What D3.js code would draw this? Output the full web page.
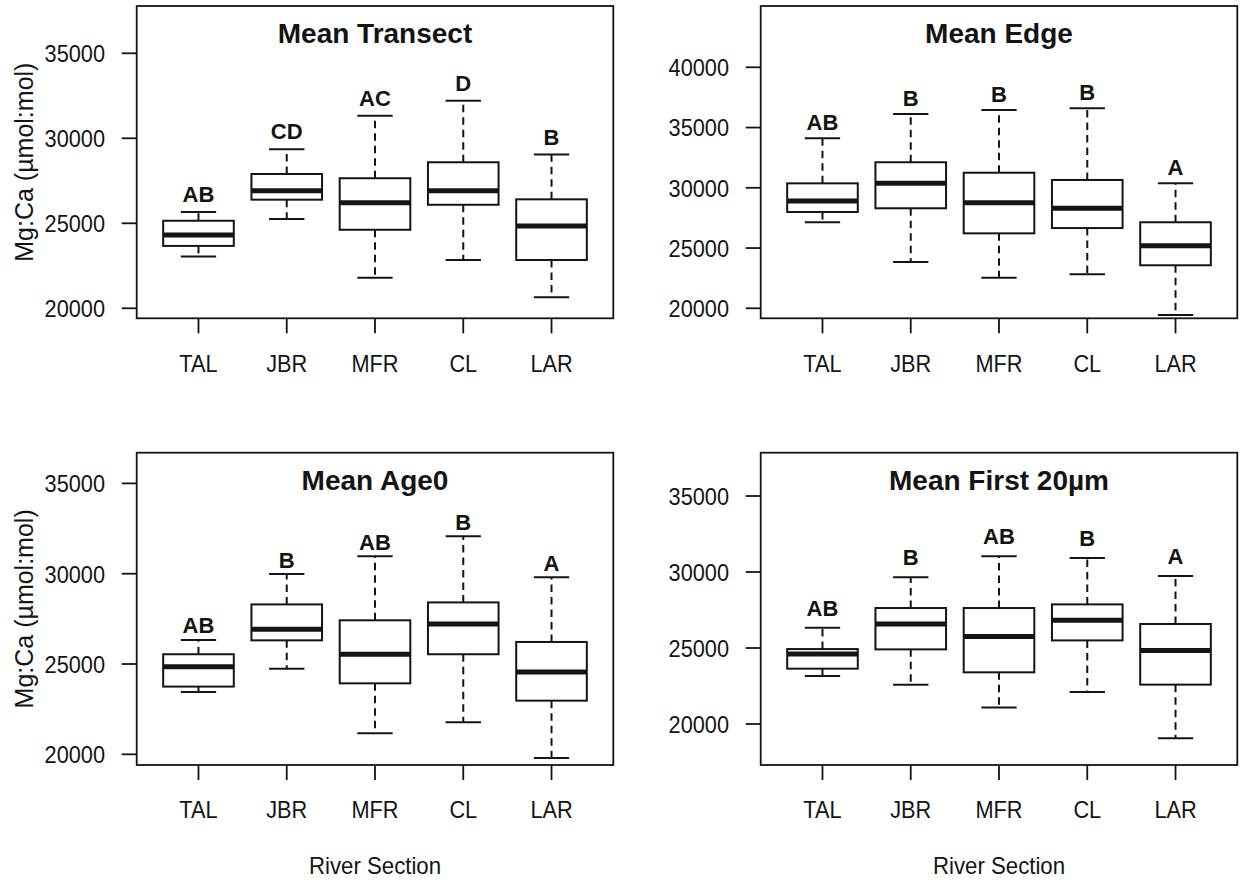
<!DOCTYPE html>
<html>
<head>
<meta charset="utf-8">
<script src="https://cdn.jsdelivr.net/npm/d3@7"></script>
<style>
  html, body { margin: 0; padding: 0; background: #fff; }
  svg { display: block; }
  text { font-family: "Liberation Sans", Arial, Helvetica, sans-serif; fill: #141414; }
</style>
</head>
<body>
<svg id="chart" width="1243" height="884"></svg>
<script>
// ---------------- data ----------------
const categories = ["TAL", "JBR", "MFR", "CL", "LAR"];

// each entry: [lower whisker, Q1, median, Q3, upper whisker]
const transectStats = [
  [23040, 23670, 24310, 25150, 25670],
  [25250, 26390, 26920, 27900, 29350],
  [21800, 24620, 26210, 27650, 31330],
  [22840, 26090, 26920, 28590, 32210],
  [20650, 22840, 24840, 26410, 29040]
];
const transectLetters = ["AB", "CD", "AC", "D", "B"];

const edgeStats = [
  [27140, 27990, 28900, 30370, 34110],
  [23840, 28300, 30370, 32120, 36130],
  [22540, 26220, 28760, 31250, 36460],
  [22820, 26660, 28300, 30650, 36600],
  [19440, 23570, 25200, 27140, 30370]
];
const edgeLetters = ["AB", "B", "B", "B", "A"];

const age0Stats = [
  [23450, 23750, 24850, 25540, 26330],
  [24740, 26310, 26920, 28300, 29980],
  [21160, 23930, 25540, 27420, 30960],
  [21770, 25540, 27210, 28410, 32070],
  [19800, 22970, 24560, 26220, 29800]
];
const age0Letters = ["AB", "B", "AB", "B", "A"];

const first20Stats = [
  [23160, 23640, 24600, 24930, 26340],
  [22590, 24910, 26580, 27630, 29650],
  [21080, 23400, 25750, 27630, 31030],
  [22110, 25500, 26820, 27870, 30920],
  [19060, 22590, 24830, 26580, 29740]
];
const first20Letters = ["AB", "B", "AB", "B", "A"];

const ticksTransect = [20000, 25000, 30000, 35000];
const ticksEdge = [20000, 25000, 30000, 35000, 40000];
const ticksAge0 = [20000, 25000, 30000, 35000];
const ticksFirst20 = [20000, 25000, 30000, 35000];

const titles = ["Mean Transect", "Mean Edge", "Mean Age0", "Mean First 20\u00b5m"];
const yAxisTitle = "Mg:Ca (\u00b5mol:mol)";
const xAxisTitle = "River Section";

// ---------------- layout ----------------
const panels = [
  { title: titles[0], stats: transectStats, letters: transectLetters, ticks: ticksTransect,
    box: { l: 136.7, r: 613.3, t: 6, b: 318.3 }, domain: [19412, 37782], ylab: true, xlab: false, gap: 10 },
  { title: titles[1], stats: edgeStats, letters: edgeLetters, ticks: ticksEdge,
    box: { l: 760.7, r: 1237.3, t: 6, b: 318.3 }, domain: [19170, 45087], ylab: false, xlab: false, gap: 8 },
  { title: titles[2], stats: age0Stats, letters: age0Letters, ticks: ticksAge0,
    box: { l: 136.7, r: 613.3, t: 452.7, b: 765 }, domain: [19408, 36700], ylab: true, xlab: true, gap: 6.5 },
  { title: titles[3], stats: first20Stats, letters: first20Letters, ticks: ticksFirst20,
    box: { l: 760.7, r: 1237.3, t: 452.7, b: 765 }, domain: [17303, 37849], ylab: false, xlab: true, gap: 12 }
];

const INK = "#141414";
const plainSize = 24.7, plainScale = 0.88;
const svg = d3.select("#chart");

function plainText(g, x, y, str, anchor, sx, size) {
  return g.append("text")
    .attr("transform", `translate(${x},${y}) scale(${sx},1)`)
    .attr("text-anchor", anchor)
    .style("font-size", size + "px")
    .text(str);
}

panels.forEach(p => {
  const g = svg.append("g");
  const x = d3.scalePoint().domain(categories).range([p.box.l, p.box.r]).padding(0.7);
  const y = d3.scaleLinear().domain(p.domain).range([p.box.b, p.box.t]);
  const step = x.step();
  const bw = 0.8 * step;
  const sw = 0.5 * bw;

  // boxes
  categories.forEach((c, i) => {
    const [lo, q1, med, q3, hi] = p.stats[i];
    const cx = x(c);
    // whiskers (dashed)
    g.append("line").attr("x1", cx).attr("x2", cx).attr("y1", y(q3)).attr("y2", y(hi))
      .attr("stroke", INK).attr("stroke-width", 2).attr("stroke-dasharray", "7.5,5");
    g.append("line").attr("x1", cx).attr("x2", cx).attr("y1", y(q1)).attr("y2", y(lo))
      .attr("stroke", INK).attr("stroke-width", 2).attr("stroke-dasharray", "7.5,5");
    // staples
    [lo, hi].forEach(v => {
      g.append("line").attr("x1", cx - sw / 2).attr("x2", cx + sw / 2)
        .attr("y1", y(v)).attr("y2", y(v))
        .attr("stroke", INK).attr("stroke-width", 2);
    });
    // box
    g.append("rect").attr("x", cx - bw / 2).attr("y", y(q3))
      .attr("width", bw).attr("height", y(q1) - y(q3))
      .attr("fill", "#fff").attr("stroke", INK).attr("stroke-width", 2);
    // median
    g.append("line").attr("x1", cx - bw / 2).attr("x2", cx + bw / 2)
      .attr("y1", y(med)).attr("y2", y(med))
      .attr("stroke", INK).attr("stroke-width", 5);
    // letters
    g.append("text")
      .attr("x", cx).attr("y", y(hi) - p.gap)
      .attr("text-anchor", "middle")
      .style("font-size", "22px").style("font-weight", "bold")
      .text(p.letters[i]);
  });

  // frame
  g.append("rect").attr("x", p.box.l).attr("y", p.box.t)
    .attr("width", p.box.r - p.box.l).attr("height", p.box.b - p.box.t)
    .attr("fill", "none").attr("stroke", INK).attr("stroke-width", 1.8);

  // y axis ticks
  p.ticks.forEach(t => {
    g.append("line").attr("x1", p.box.l - 15).attr("x2", p.box.l)
      .attr("y1", y(t)).attr("y2", y(t)).attr("stroke", INK).attr("stroke-width", 1.8);
    plainText(g, p.box.l - 31.7, y(t) + 8.8, d3.format("d")(t), "end", plainScale, plainSize);
  });

  // x axis ticks
  categories.forEach(c => {
    g.append("line").attr("x1", x(c)).attr("x2", x(c))
      .attr("y1", p.box.b).attr("y2", p.box.b + 15).attr("stroke", INK).attr("stroke-width", 1.8);
    plainText(g, x(c), p.box.b + 53.2, c, "middle", plainScale, plainSize);
  });

  // title
  g.append("text")
    .attr("x", (p.box.l + p.box.r) / 2).attr("y", p.box.t + 36.8)
    .attr("text-anchor", "middle")
    .style("font-size", "28px").style("font-weight", "bold")
    .text(p.title);

  // axis titles
  if (p.ylab) {
    g.append("text")
      .attr("transform", `translate(33.3,${(p.box.t + p.box.b) / 2}) rotate(-90)`)
      .attr("text-anchor", "middle")
      .style("font-size", "25px")
      .text(yAxisTitle);
  }
  if (p.xlab) {
    plainText(g, (p.box.l + p.box.r) / 2, p.box.b + 109.3, xAxisTitle, "middle", 0.9, plainSize);
  }
});
</script>
</body>
</html>
